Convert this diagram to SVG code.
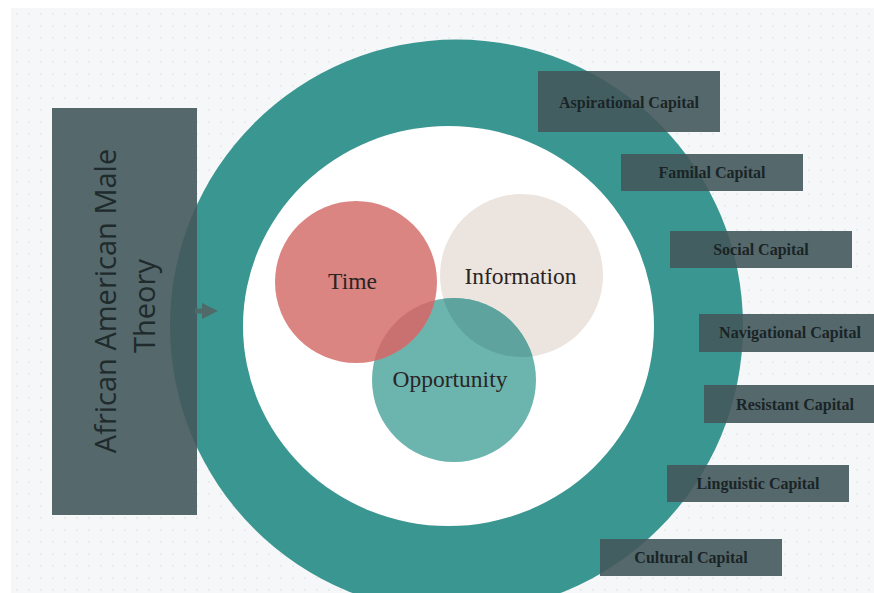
<svg xmlns="http://www.w3.org/2000/svg" width="874" height="593" viewBox="0 0 874 593">
  <defs>
    <pattern id="dots" x="11" y="8" width="12" height="12" patternUnits="userSpaceOnUse">
      <circle cx="6" cy="6" r="0.9" fill="#e4e6ea"/>
    </pattern>
    <clipPath id="clipOpp">
      <circle cx="454" cy="380" r="82"/>
    </clipPath>
    <marker id="arrowHead" viewBox="0 0 10 10" refX="2" refY="5" markerWidth="3.2" markerHeight="3.2" orient="auto">
      <path d="M0,0 L10,5 L0,10 z" fill="#4f6a69"/>
    </marker>
  </defs>
  <style>
    .panel { fill: #44585b; fill-opacity: 0.9; }
    .cap { font-family: "Liberation Serif", "Times New Roman", serif; font-weight: bold; font-size: 16px; fill: #1a2426; text-anchor: middle; }
    .venn { font-family: "Liberation Serif", "Times New Roman", serif; font-size: 23.5px; fill: #2a2424; text-anchor: middle; }
    .theory { font-family: "Open Sans", "DejaVu Sans", sans-serif; font-size: 29px; fill: #1e2a2c; text-anchor: middle; }
  </style>

  <!-- page background -->
  <rect x="0" y="0" width="874" height="593" fill="#ffffff"/>
  <rect x="11" y="8" width="863" height="585" fill="#f6f7f9"/>
  <rect x="11" y="8" width="863" height="585" fill="url(#dots)"/>

  <!-- outer ring -->
  <g id="ring">
    <circle cx="456.5" cy="326" r="286.5" fill="#3a9690"/>
    <ellipse cx="448.5" cy="326" rx="205.5" ry="200" fill="#ffffff"/>
  </g>

  <!-- overlapping circles -->
  <g id="information">
    <circle cx="521.5" cy="275.5" r="81.5" fill="#ece5df"/>
    <text class="venn" x="520.5" y="284">Information</text>
  </g>
  <g id="opportunity">
    <circle cx="454" cy="380" r="82" fill="#6cb4ae"/>
    <circle cx="521.5" cy="275.5" r="81.5" fill="#5ea39d" clip-path="url(#clipOpp)"/>
    <text class="venn" x="450" y="387">Opportunity</text>
  </g>
  <g id="time">
    <circle cx="356" cy="282" r="81" fill="#db8582"/>
    <circle cx="356" cy="282" r="81" fill="#c97170" clip-path="url(#clipOpp)"/>
    <text class="venn" x="352.5" y="289">Time</text>
  </g>

  <!-- theory panel -->
  <g id="theory">
    <rect class="panel" x="52" y="108" width="145" height="407"/>
    <text class="theory" transform="translate(116,301) rotate(-90)">African American Male</text>
    <text class="theory" transform="translate(155,306) rotate(-90)">Theory</text>
  </g>

  <!-- connectors -->
  <g id="connectors">
    <line x1="195" y1="311" x2="205" y2="311" stroke="#4f6a69" stroke-width="5" marker-end="url(#arrowHead)"/>
  </g>

  <!-- capital labels -->
  <g id="aspirational">
    <rect class="panel" x="538" y="71" width="182" height="61"/>
    <text class="cap" x="629" y="108">Aspirational Capital</text>
  </g>
  <g id="familial">
    <rect class="panel" x="621" y="154" width="182" height="37"/>
    <text class="cap" x="712" y="178">Familal Capital</text>
  </g>
  <g id="social">
    <rect class="panel" x="670" y="231" width="182" height="37"/>
    <text class="cap" x="761" y="255">Social Capital</text>
  </g>
  <g id="navigational">
    <rect class="panel" x="699" y="314" width="182" height="38"/>
    <text class="cap" x="790" y="338">Navigational Capital</text>
  </g>
  <g id="resistant">
    <rect class="panel" x="704" y="385" width="182" height="38"/>
    <text class="cap" x="795" y="410">Resistant Capital</text>
  </g>
  <g id="linguistic">
    <rect class="panel" x="667" y="465" width="182" height="37"/>
    <text class="cap" x="758" y="489">Linguistic Capital</text>
  </g>
  <g id="cultural">
    <rect class="panel" x="600" y="539" width="182" height="37"/>
    <text class="cap" x="691" y="563">Cultural Capital</text>
  </g>
</svg>
